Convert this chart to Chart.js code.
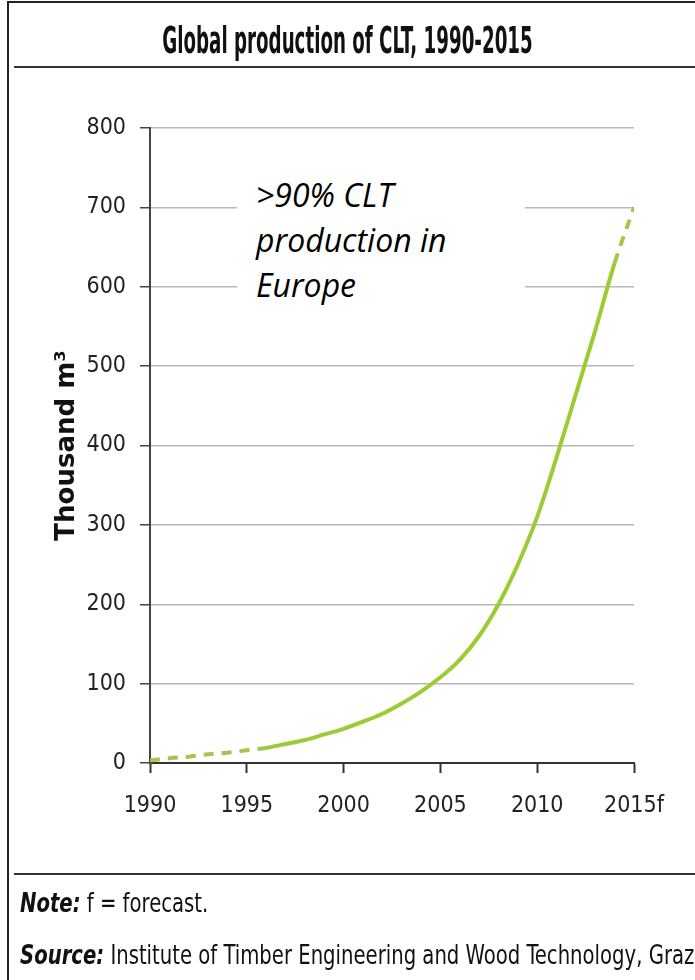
<!DOCTYPE html>
<html>
<head>
<meta charset="utf-8">
<script src="https://cdn.jsdelivr.net/npm/chart.js@4.4.0/dist/chart.umd.min.js"></script>
<style>
  html, body { margin: 0; padding: 0; background: #fff; }
  #wrap { position: relative; width: 695px; height: 980px; overflow: hidden; }
  #frame { position: absolute; left: 7px; top: 1px; width: 700px; height: 990px;
           border-left: 2px solid #222; border-top: 2px solid #222; }
  #title { position: absolute; left: 0; width: 695px; top: 25px; text-align: center;
           font: bold 26px "DejaVu Sans Condensed", sans-serif; color: #111;
           transform: scale(0.78, 1.4); transform-origin: 50% 50%; }
  .rule { position: absolute; left: 14px; width: 690px; height: 0; border-top: 2px solid #333; }
  .foot { position: absolute; left: 20px; white-space: nowrap;
          font: 21px "DejaVu Sans Condensed", sans-serif; color: #111;
          transform: scale(1.04, 1.25); transform-origin: 0 50%; }
  .foot b { font-style: italic; }
  #callout { position: absolute; left: 237px; top: 172px; width: 288px; height: 138px;
           background: #fff; padding-left: 19px; box-sizing: border-box;
           font: italic 32px "Open Sans", sans-serif; line-height: 45px; color: #000; }
  canvas { position: absolute; left: 0; top: 0; }
</style>
</head>
<body>
<div id="wrap">
  <canvas id="cltChart" width="695" height="980"></canvas>
  <div id="frame"></div>
  <div id="title">Global production of CLT, 1990-2015</div>
  <div class="rule" style="top:66px"></div>
  <div class="rule" style="top:873px"></div>
  <div class="foot" style="top:891px"><b>Note:</b> f = forecast.</div>
  <div class="foot" style="top:943px"><b>Source:</b> Institute of Timber Engineering and Wood Technology, Graz</div>
  <div id="callout">&gt;90% CLT<br>production in<br>Europe</div>
</div>
<script>
// CLT production, thousand m3
const years = [1990, 1991, 1992, 1993, 1994, 1995, 1996, 1997, 1998, 1999, 2000, 2001, 2002,
               2003, 2004, 2005, 2006, 2007, 2008, 2009, 2010, 2011, 2012, 2013, 2014, 2015];
const production = [3, 6, 8, 11, 13, 16, 19, 24, 29, 36, 43, 52, 62,
                    75, 90, 108, 130, 160, 200, 250, 310, 385, 465, 545, 630, 700];
const xTickValues = [1990, 1995, 2000, 2005, 2010, 2015];
const xTickLabels = ['1990', '1995', '2000', '2005', '2010', '2015f'];
const yTicks = [0, 100, 200, 300, 400, 500, 600, 700, 800];

// estimated stretches are dashed: up to 1996 and from 2014
const dashedUpTo = 6;
const dashedFrom = 24;

const tickFont = { family: '"DejaVu Sans Condensed", sans-serif', size: 23 };

new Chart(document.getElementById('cltChart').getContext('2d'), {
    type: 'line',
    data: {
        datasets: [{
            data: years.map((y, i) => ({ x: y, y: production[i] })),
            borderColor: '#9acd32',
            borderWidth: 4,
            pointRadius: 0,
            cubicInterpolationMode: 'monotone',
            segment: {
                borderDash: c => (c.p1DataIndex <= dashedUpTo || c.p0DataIndex >= dashedFrom) ? [10, 8] : undefined,
                borderColor: c => (c.p1DataIndex <= dashedUpTo || c.p0DataIndex >= dashedFrom) ? '#a9c44c' : undefined
            }
        }]
    },
    options: {
        responsive: false,
        animation: false,
        layout: { padding: { left: 52, right: 61, top: 128, bottom: 167 } },
        plugins: { legend: { display: false }, tooltip: { enabled: false } },
        scales: {
            x: {
                type: 'linear',
                min: 1990,
                max: 2015,
                afterBuildTicks: s => { s.ticks = xTickValues.map(v => ({ value: v })); },
                afterFit: s => { s.height = 50; },
                ticks: {
                    padding: 19,
                    color: '#222',
                    font: tickFont,
                    maxRotation: 0,
                    callback: v => xTickLabels[xTickValues.indexOf(v)]
                },
                grid: { drawOnChartArea: false, tickLength: 10, tickColor: '#333', tickWidth: 2 },
                border: { color: '#333', width: 2 }
            },
            y: {
                min: 0,
                max: 800,
                afterBuildTicks: s => { s.ticks = yTicks.map(v => ({ value: v })); },
                afterFit: s => { s.width = 150 - 52; },
                ticks: { padding: 14, color: '#222', font: tickFont },
                grid: { color: '#b8b8b8', lineWidth: 1.5, tickLength: 10, tickColor: '#444', tickWidth: 1.5 },
                border: { color: '#444', width: 2 },
                title: {
                    display: true,
                    text: 'Thousand m³',
                    color: '#111',
                    font: { family: '"DejaVu Sans", sans-serif', size: 26, weight: 'bold' },
                    padding: { top: 0, bottom: 0 }
                }
            }
        }
    }
});
</script>
</body>
</html>
